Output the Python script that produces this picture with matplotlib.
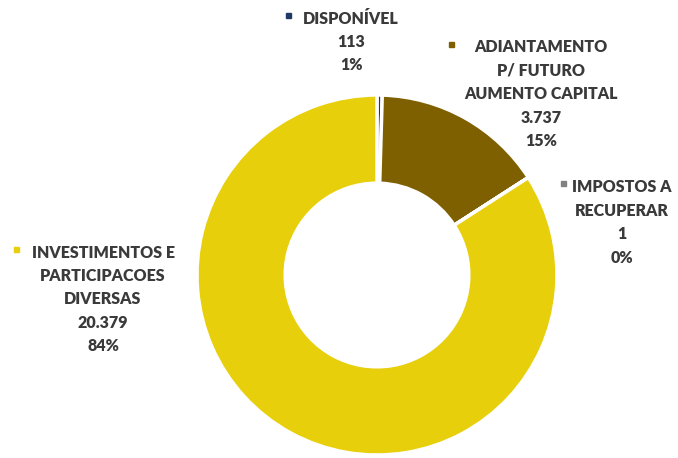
import matplotlib.pyplot as plt
from matplotlib.patches import Rectangle

# composicao do ativo
categorias = ["DISPONÍVEL", "ADIANTAMENTO\nP/ FUTURO\nAUMENTO CAPITAL",
              "IMPOSTOS A\nRECUPERAR", "INVESTIMENTOS E\nPARTICIPACOES\nDIVERSAS"]
valores = [113, 3737, 1, 20379]
valores_txt = ["113", "3.737", "1", "20.379"]
percentuais = ["1%", "15%", "0%", "84%"]
cores = ["#1F3864", "#7F6000", "#808080", "#E8CF0C"]

W, H = 678, 458


def px(x, y):
    # pixel (top-left origin) -> figure coords
    return x / W, 1 - y / H


def main():
    plt.rcParams['font.family'] = ['Lato', 'DejaVu Sans']
    fig = plt.figure(figsize=(W / 100, H / 100), dpi=100)

    cx, cy, r = 377, 275, 180
    ax = fig.add_axes([(cx - r) / W, (H - cy - r) / H, 2 * r / W, 2 * r / H])
    ax.pie(valores, colors=cores, startangle=90, counterclock=False,
           radius=1, wedgeprops=dict(width=0.49, edgecolor='white', linewidth=2.5))
    ax.set_xlim(-1, 1)
    ax.set_ylim(-1, 1)
    ax.set_aspect('equal')
    ax.axis('off')

    # posicao do rotulo: centro x, y da primeira linha, marcador x
    rotulos = [(351, 18, 288), (541, 47, 451), (622, 187, 563), (103, 252, 16)]
    for i, (lx, ly, mx) in enumerate(rotulos):
        texto = categorias[i] + "\n" + valores_txt[i] + "\n" + percentuais[i]
        x, y = px(lx, ly - 7.5)
        fig.text(x, y, texto, ha='center', va='top', fontsize=11.5,
                 fontweight='heavy', color='#3A3A3A', linespacing=1.57)
        rx, ry = px(mx - 2.5, ly - 3 + 2.5)
        fig.patches.append(Rectangle((rx, ry), 5 / W, 5 / H, color=cores[i],
                                     transform=fig.transFigure, figure=fig))

    fig.savefig("out.png", dpi=100)
    plt.close(fig)


if __name__ == '__main__':
    main()
